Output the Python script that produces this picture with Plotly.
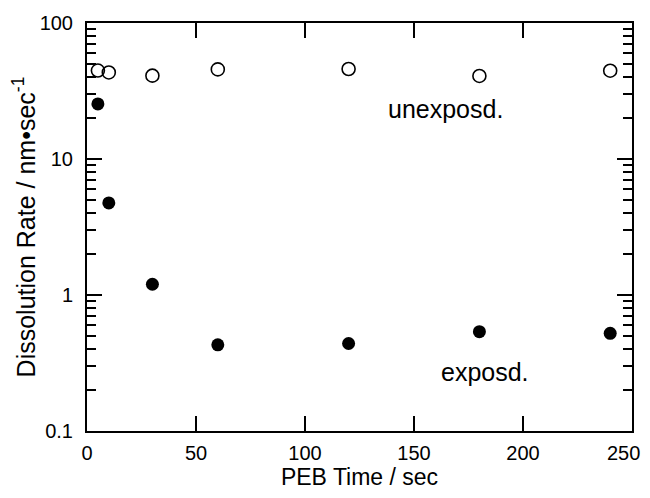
import plotly.graph_objects as go

peb_time = [5, 10, 30, 60, 120, 180, 240]
unexposed_rate = [44.7, 43.3, 41.0, 45.6, 45.9, 40.8, 44.6]
exposed_rate = [25.4, 4.75, 1.2, 0.43, 0.44, 0.537, 0.523]

x_ticks = [0, 50, 100, 150, 200, 250]
x_tick_text = ["0", "50", "100", "150", "200", "250\u00a0\u00a0\u00a0"]
y_ticks = [0.1, 1, 10, 100]
y_tick_text = ["0.1", "1", "10", "100"]
y_minor = [m * d for d in (0.1, 1, 10) for m in range(2, 10)]

FONT = "Liberation Sans, Arial, Helvetica, sans-serif"

fig = go.Figure()
fig.add_trace(go.Scatter(
    x=peb_time, y=unexposed_rate, mode="markers", name="unexposd.",
    marker=dict(symbol="circle-open", size=13, color="black", line=dict(width=1.6, color="black")),
))
fig.add_trace(go.Scatter(
    x=peb_time, y=exposed_rate, mode="markers", name="exposd.",
    marker=dict(symbol="circle", size=13, color="black"),
))

fig.add_annotation(x=0.657, y=0.789, xref="paper", yref="paper", text="unexposd.",
                   xanchor="center", yanchor="middle",
                   showarrow=False, font=dict(family=FONT, size=25, color="black"))
fig.add_annotation(x=0.730, y=0.145, xref="paper", yref="paper", text="exposd.",
                   xanchor="center", yanchor="middle",
                   showarrow=False, font=dict(family=FONT, size=25, color="black"))

fig.update_xaxes(
    range=[0, 250], tickvals=x_ticks, ticktext=x_tick_text,
    ticks="inside", ticklen=15, tickwidth=2,
    tickcolor="black", showline=True, linecolor="black", linewidth=2, mirror="ticks",
    showgrid=False, zeroline=False, automargin=False, ticklabelstandoff=3,
    ticklabeloverflow="allow",
    tickfont=dict(family=FONT, size=20, color="black"),
    title=dict(text="PEB Time / sec", font=dict(family=FONT, size=23, color="black"), standoff=11),
)
fig.update_yaxes(
    type="log", range=[-1, 2], tickvals=y_ticks, ticktext=y_tick_text,
    ticks="inside", ticklen=15, tickwidth=2, tickcolor="black",
    showline=True, linecolor="black", linewidth=2, mirror="ticks",
    showgrid=False, zeroline=False, automargin=False, ticklabelstandoff=8,
    minor=dict(tickvals=y_minor, ticks="inside", ticklen=9, tickwidth=2, tickcolor="black", showgrid=False),
    tickfont=dict(family=FONT, size=20, color="black"),
    title=dict(text="Dissolution Rate / nm•sec<sup>-1</sup>", font=dict(family=FONT, size=25, color="black"), standoff=0),
)

fig.update_layout(
    width=634, height=482,
    margin=dict(l=79, r=10, t=15, b=59),
    plot_bgcolor="white", paper_bgcolor="white",
    showlegend=False,
)

fig.write_html("out.html")
